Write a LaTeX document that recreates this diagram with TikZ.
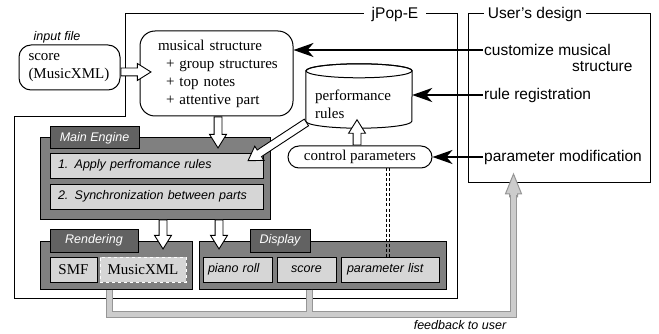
\documentclass[tikz,border=0pt]{standalone}
\usepackage{fontspec}
\setmainfont{Liberation Serif}
\setsansfont{Liberation Sans}
\usetikzlibrary{arrows.meta,shapes.arrows,calc,positioning}

\definecolor{boxgray}{RGB}{128,128,128}
\definecolor{tabgray}{RGB}{98,98,98}
\definecolor{cellgray}{RGB}{214,214,214}
\definecolor{fbgray}{RGB}{204,204,204}
\definecolor{fbedge}{RGB}{150,150,150}

\tikzset{
  serif/.style={font=\fontsize{15}{18}\selectfont},
  sans/.style={font=\sffamily\fontsize{15.5}{18}\selectfont},
  lbl/.style={font=\sffamily\itshape\fontsize{12.5}{15}\selectfont},
  frame/.style={draw=black, line width=1pt},
  rbox/.style={draw=black, line width=1pt, fill=white, serif},
  panel/.style={draw=black, line width=1pt, fill=boxgray},
  tab/.style={draw=black, line width=1pt, fill=tabgray, text=white, lbl},
  cell/.style={draw=black, line width=0.8pt, fill=cellgray},
  hollow/.style={single arrow, draw=black, fill=white, line width=0.9pt, inner sep=0pt,
    inner ysep=3.5pt, single arrow head extend=4.5pt, single arrow tip angle=64},
  fbarrow/.style={single arrow, draw=fbedge, fill=fbgray, line width=1pt, inner sep=0pt,
    inner ysep=3.5pt, single arrow head extend=4pt, single arrow tip angle=44},
  blk/.style={line width=2pt, -{Stealth[length=20pt,width=14pt,inset=6pt]}},
}

% hollow arrow from one named point to another
\newcommand\hollowarrow[4]{%
  \path let \p1=($(#4)-(#3)$), \n1={veclen(\x1,\y1)}, \n2={atan2(\y1,\x1)} in
    (#3) node[#1, anchor=tail, minimum height=\n1, rotate=-\n2] (#2) {};}

\begin{document}
\begin{tikzpicture}[x=1pt,y=1pt,yscale=-1]
\useasboundingbox (0,0) rectangle (659,334);

% frames
\draw[frame] (125,14) -- (457,14) -- (457,298) -- (14,298) -- (14,117) -- (125,117) -- cycle;
\node[sans, fill=white, inner xsep=8pt, inner ysep=2pt] (jpop) at (395,14) {jPop-E};
\node[frame, minimum width=182pt, minimum height=169pt] (user) at (559,98.5) {};
\node[sans, fill=white, inner xsep=4pt, inner ysep=2pt] (usertitle) at (535,14) {User's design};

% feedback to user
\coordinate (fbTip) at ($(user.south west)+(46,-9)$);
\coordinate (fbBase) at ($(user.south west)+(46,14)$);
\hollowarrow{fbarrow}{fbhead}{fbBase}{fbTip}

% input file and musical structure
\node[lbl] (inlbl) at (57,37) {input file};
\node[rbox, rounded corners=12pt, text width=86pt, inner xsep=7.5pt, minimum height=45pt, align=left] (score) at (69.5,67.5) {\hspace*{2pt}score\\\hspace*{2pt}(MusicXML)};
\node[rbox, rounded corners=15pt, text width=132pt, inner xsep=10.5pt, minimum height=85pt, align=left] (ms) at (216.5,73.5)
  {\hspace*{7.5pt}musical structure\\\hspace*{15.5pt}+ group structures\\\hspace*{15.5pt}+ top notes\\\hspace*{15.5pt}+ attentive part};

% performance rules
\node[minimum width=106pt, minimum height=64pt, inner sep=0pt] (rules) at (359,96) {};
\draw[line width=1pt, fill=white] ($(rules.north west)+(0,7)$) -- ($(rules.south west)+(0,-7)$)
  arc[start angle=180, end angle=0, x radius=53, y radius=7] -- ($(rules.north east)+(0,7)$)
  arc[start angle=0, end angle=-180, x radius=53, y radius=7] -- cycle;
\draw[line width=1pt] ($(rules.north)+(0,7)$) ellipse[x radius=53, y radius=7];
\node[serif, anchor=west, align=left, inner sep=0pt] (rulestxt) at (315,104) {performance\\rules};
\node[rbox, rounded corners=11pt, minimum width=144pt, minimum height=22pt] (cp) at (360,157) {control parameters};

% main engine
\node[panel, minimum width=230pt, minimum height=81pt] (eng) at (155,178.5) {};
\node[tab, minimum width=89pt, minimum height=22pt] (engtab) at (94.5,138) {Main Engine};
\node[cell, lbl, text width=197pt, inner xsep=8pt, minimum height=25pt, align=left] (apply) at (156.5,165.5) {1. Apply perfromance rules};
\node[cell, lbl, text width=197pt, inner xsep=8pt, minimum height=25pt, align=left] (sync) at (156.5,196.5) {2. Synchronization between parts};

% rendering
\node[panel, minimum width=152pt, minimum height=48pt] (rend) at (116,265) {};
\node[tab, minimum width=88pt, minimum height=23pt] (rendtab) at (94,240.5) {Rendering};
\node[cell, serif, minimum width=47pt, minimum height=25pt] (smf) at (73.5,269.5) {SMF};
\node[cell, serif, draw=white, dashed, minimum width=86pt, minimum height=25pt] (mx) at (143,269.5) {MusicXML};

% display
\node[panel, minimum width=247pt, minimum height=48pt] (disp) at (322.5,265) {};
\node[tab, minimum width=60pt, minimum height=23pt] (disptab) at (280,240.5) {Display};
\node[cell, lbl, text width=59pt, inner xsep=5pt, minimum height=25pt, align=left] (proll) at (237.5,269.5) {piano roll};
\node[cell, lbl, minimum width=59pt, minimum height=25pt] (dscore) at (306.5,269.5) {score};
\node[cell, lbl, text width=86pt, inner xsep=6pt, minimum height=25pt, align=left] (plist) at (390,269.5) {parameter list};

% feedback lines
\coordinate (fbA) at ($(mx.south west |- rend.south)+(10,0)$);
\coordinate (fbB) at ($(dscore.south |- disp.south)+(3,0)$);
\coordinate (fbC) at ($(fbA)+(0,25)$);
\foreach \w/\c in {7pt/fbedge,5pt/fbgray}{
  \draw[line width=\w, draw=\c] (fbA) -- (fbC) -| ($(fbBase)+(0,-2)$);
  \draw[line width=\w, draw=\c] (fbB) -- (fbB |- fbC);
}

% parameter link
\draw[line width=0.8pt, dash pattern=on 3pt off 2pt] ($(plist.north |- cp.south)+(-3.5,0)$) -- ($(plist.north)+(-3.5,0)$);
\draw[line width=0.8pt, dash pattern=on 3pt off 2pt] ($(plist.north |- cp.south)+(-0.5,0)$) -- ($(plist.north)+(-0.5,0)$);

% hollow arrows
\coordinate (a1s) at ($(score.east)+(0,4.5)$);
\coordinate (a1e) at ($(ms.west)+(11,-1.5)$);
\coordinate (a2s) at ($(ms.south)+(1.5,0)$);
\coordinate (a2e) at ($(a2s |- eng.north)+(0,10)$);
\coordinate (a3s) at ($(rules.south west)+(1,-6)$);
\coordinate (a3e) at ($(apply.east)+(-15,-5)$);
\coordinate (a4s) at ($(cp.north)+(-3,0)$);
\coordinate (a4e) at ($(a4s |- rules.south)+(0,-8)$);
\coordinate (a5s) at ($(eng.south)+(8,0)$);
\coordinate (a5e) at ($(a5s |- rend.north)+(0,8)$);
\coordinate (a6s) at ($(eng.south)+(64,0)$);
\coordinate (a6e) at ($(a6s |- disp.north)+(0,8)$);
\hollowarrow{hollow}{h1}{a1s}{a1e}
\hollowarrow{hollow}{h2}{a2s}{a2e}
\hollowarrow{hollow}{h3}{a3s}{a3e}
\hollowarrow{hollow}{h4}{a4s}{a4e}
\hollowarrow{hollow}{h5}{a5s}{a5e}
\hollowarrow{hollow}{h6}{a6s}{a6e}

% user side
\node[sans, anchor=west, inner sep=1pt] (cust) at (483,50) {customize musical};
\node[sans, anchor=west, inner sep=1pt] (custb) at (571,67) {structure};
\node[sans, anchor=west, inner sep=1pt] (reg) at (483,95) {rule registration};
\node[sans, anchor=west, inner sep=1pt] (pmod) at (483,157) {parameter modification};
\draw[blk] (cust.west) -- (cust.west -| ms.east);
\draw[blk] (reg.west) -- (reg.west -| rules.east);
\draw[blk] (pmod.west) -- (pmod.west -| cp.east);

\node[lbl] (fbtxt) at (460,325) {feedback to user};

\end{tikzpicture}
\end{document}
